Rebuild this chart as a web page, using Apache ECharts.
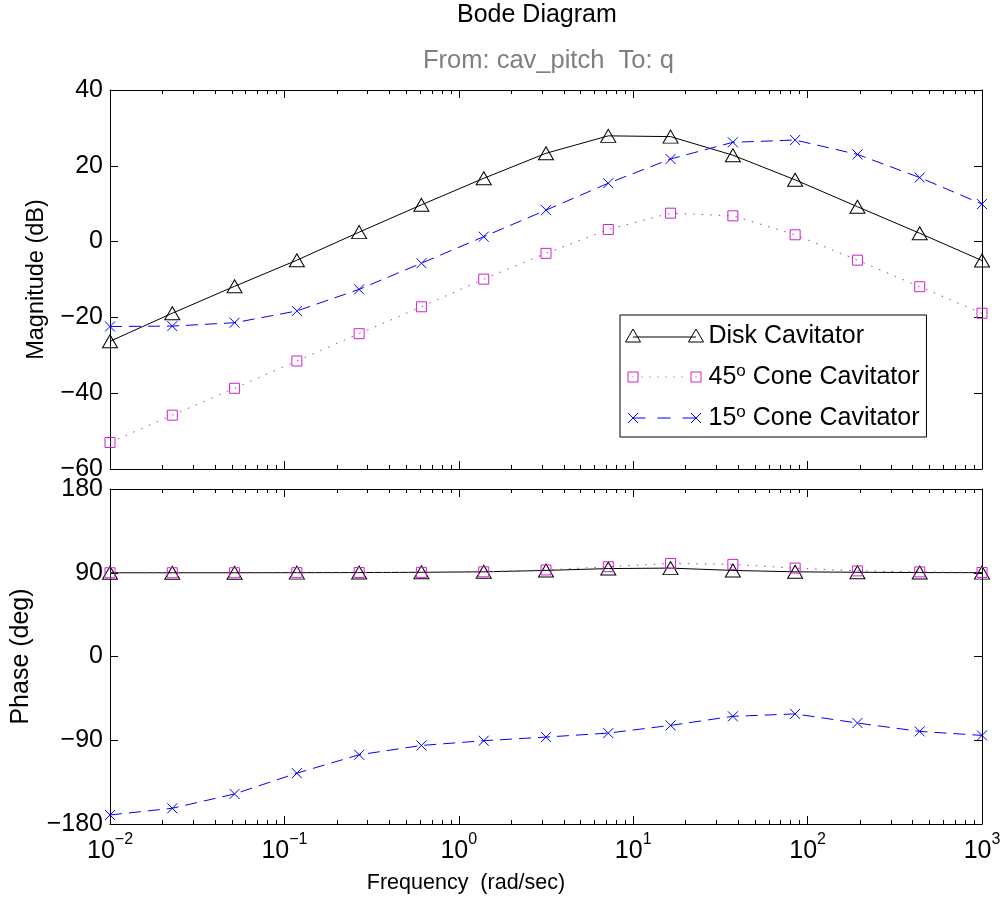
<!DOCTYPE html>
<html>
<head>
<meta charset="utf-8">
<script src="https://cdn.jsdelivr.net/npm/echarts@6.0.0/dist/echarts.min.js"></script>
<style>
html, body { margin: 0; padding: 0; background: #fff; }
#main { width: 1005px; height: 900px; }
</style>
</head>
<body>
<div id="main"></div>
<script>
// frequencies (rad/sec) of the plotted markers
var freq = [0.01, 0.02276, 0.05179, 0.1179, 0.2683, 0.6105, 1.39, 3.162, 7.197, 16.38, 37.28, 84.83, 193.1, 439.4, 1000];

// magnitude (dB)
var magDisk = [-26.3, -18.9, -11.8, -4.9, 2.5, 9.7, 16.7, 23.3, 27.9, 27.7, 22.8, 16.3, 9.2, 2.2, -5.0];
var mag45 = [-53.0, -45.8, -38.7, -31.5, -24.3, -17.2, -9.9, -3.1, 3.2, 7.5, 6.8, 1.8, -4.9, -11.9, -18.9];
var mag15 = [-22.4, -22.3, -21.4, -18.3, -12.6, -5.7, 1.3, 8.3, 15.4, 21.8, 26.2, 26.8, 23.0, 16.9, 9.9];

// phase (deg)
var phDisk = [90, 90, 90, 90.1, 90.2, 90.5, 91, 92.5, 94.5, 95, 92.5, 91, 90.5, 90.2, 90.1];
var ph45 = [90, 90, 90, 90.1, 90.2, 90.4, 91, 93, 96.5, 100, 99, 95, 92, 90.9, 90.3];
var ph15 = [-170.3, -163.1, -147.7, -125.4, -105.6, -95.6, -90.5, -86.6, -82.3, -74.0, -64.3, -61.7, -71.5, -80.5, -84.8];

var names = ['Disk Cavitator', '45\u00b0 Cone Cavitator', '15\u00b0 Cone Cavitator'];
var majorTicks = [0.01, 0.1, 1, 10, 100, 1000];
var minorMult = [2, 3, 4, 5, 6, 7, 8, 9];

var minorTicks = [];
for (var i = 0; i < majorTicks.length - 1; i++) {
    for (var j = 0; j < minorMult.length; j++) {
        minorTicks.push(+(majorTicks[i] * minorMult[j]).toPrecision(3));
    }
}

var FONT = "'Liberation Sans', Arial, sans-serif";

function pairs(ys) {
    return freq.map(function (f, k) { return [f, ys[k]]; });
}
function minus(v) {
    return String(v).replace('-', '\u2212');
}

var chart = echarts.init(document.getElementById('main'));

var grids = [
    { left: 110, top: 90, width: 872, height: 379 },
    { left: 110, top: 489, width: 872, height: 335 }
];

var xAxes = [];
[0, 1].forEach(function (g) {
    ['bottom', 'top'].forEach(function (pos) {
        var showLab = (g === 1 && pos === 'bottom');
        xAxes.push({
            gridIndex: g, type: 'log', logBase: 10, position: pos,
            min: 0.01, max: 1000,
            axisLine: { onZero: false, lineStyle: { color: '#000', width: 1 } },
            axisTick: { inside: true, length: 8, customValues: majorTicks, lineStyle: { color: '#000' } },
            splitLine: { show: false },
            axisLabel: {
                show: showLab, customValues: majorTicks, margin: 8,
                fontFamily: FONT, color: '#000',
                formatter: function (v) {
                    var e = Math.round(Math.log10(v));
                    return '{b|10}{s|' + minus(e) + '}';
                },
                rich: {
                    b: { fontSize: 25, fontFamily: FONT, color: '#000', verticalAlign: 'bottom' },
                    s: { fontSize: 16, fontFamily: FONT, color: '#000', verticalAlign: 'bottom', padding: [0, 0, 16, 0] }
                }
            },
            name: showLab ? 'Frequency  (rad/sec)' : '',
            nameLocation: 'middle', nameGap: 48,
            nameTextStyle: { fontSize: 21.5, fontFamily: FONT, color: '#000', padding: [0, 160, 0, 0] }
        });
    });
    ['bottom', 'top'].forEach(function (pos) {
        xAxes.push({
            gridIndex: g, type: 'log', logBase: 10, position: pos,
            min: 0.01, max: 1000,
            axisLine: { show: false, onZero: false },
            axisTick: { inside: true, length: 4, customValues: minorTicks, lineStyle: { color: '#000' } },
            splitLine: { show: false },
            axisLabel: { show: false }
        });
    });
});

var yAxes = [];
var yCfg = [
    { min: -60, max: 40, interval: 20, name: 'Magnitude (dB)', gap: 61, fs: 23.5 },
    { min: -180, max: 180, interval: 90, name: 'Phase (deg)', gap: 76, fs: 25 }
];
[0, 1].forEach(function (g) {
    var c = yCfg[g];
    ['left', 'right'].forEach(function (pos) {
        yAxes.push({
            gridIndex: g, type: 'value', position: pos,
            min: c.min, max: c.max, interval: c.interval,
            axisLine: { show: true, onZero: false, lineStyle: { color: '#000', width: 1 } },
            axisTick: { show: true, inside: true, length: 8, lineStyle: { color: '#000' } },
            splitLine: { show: false },
            axisLabel: {
                show: pos === 'left', margin: 7, fontSize: 25, fontFamily: FONT, color: '#000',
                formatter: minus
            },
            name: pos === 'left' ? c.name : '',
            nameLocation: 'middle', nameGap: c.gap,
            nameTextStyle: { fontSize: c.fs, fontFamily: FONT, color: '#000' }
        });
    });
});

var styles = [
    { color: '#000000', type: 'solid', symbol: 'triangle', size: [15, 13] },
    { color: '#cc22cc', type: [1.5, 7], symbol: 'rect', size: 10 },
    { color: '#0000ff', type: [12, 7], symbol: 'path://M0,0L10,10M10,0L0,10', size: 10 }
];

// legend samples: marker at both ends of a short line, as in the original figure
var legendIcons = [
    'path://M0,0M78,14M0,13L7.5,0L15,13ZM63,13L70.5,0L78,13ZM7.5,8L70.5,8',
    'path://M0,0M78,14M2.5,2L12.5,2L12.5,12L2.5,12ZM65.5,2L75.5,2L75.5,12L65.5,12Z' +
        'M7,7L8,7M16,7L17,7M24,7L25,7M32,7L33,7M40,7L41,7M48,7L49,7M56,7L57,7M70,7L71,7',
    'path://M0,0M78,14M2.5,2L12.5,12M12.5,2L2.5,12M65.5,2L75.5,12M75.5,2L65.5,12' +
        'M7.5,7L20,7M32,7L45,7M57,7L70.5,7'
];

function makeSeries(idx, data, xi, yi) {
    var s = styles[idx];
    return {
        name: names[idx], type: 'line', xAxisIndex: xi, yAxisIndex: yi,
        data: pairs(data), showSymbol: true, symbol: s.symbol, symbolSize: s.size,
        lineStyle: { color: s.color, width: 1, type: s.type },
        itemStyle: { color: 'rgba(0,0,0,0)', borderColor: s.color, borderWidth: 1 },
        emphasis: { disabled: true },
        animation: false
    };
}

var option = {
    backgroundColor: '#fff',
    animation: false,
    textStyle: { fontFamily: FONT },
    grid: grids,
    xAxis: xAxes,
    yAxis: yAxes,
    graphic: [
        { type: 'text', left: 457, top: 3, style: { text: 'Bode Diagram', fontSize: 25, fontFamily: FONT, fill: '#000' } },
        { type: 'text', left: 423, top: 48, style: { text: 'From: cav_pitch  To: q', fontSize: 25.5, fontFamily: FONT, fill: '#7f7f7f' } }
    ],
    legend: {
        data: names.map(function (n, k) {
            return {
                name: n, icon: legendIcons[k],
                itemStyle: { color: 'rgba(0,0,0,0)', borderColor: styles[k].color, borderWidth: 1 }
            };
        }),
        orient: 'vertical', left: 620, top: 315, selectedMode: false,
        padding: [7, 7, 5, 5], itemGap: 13, itemWidth: 78, itemHeight: 14,
        backgroundColor: '#fff', borderColor: '#000', borderWidth: 1, borderRadius: 0,
        textStyle: {
            fontSize: 25, fontFamily: FONT, color: '#000', lineHeight: 28,
            rich: { s: { fontSize: 17, lineHeight: 17, fontFamily: FONT, color: '#000', verticalAlign: 'top' } }
        },
        formatter: function (n) { return n.replace('\u00b0', '{s|o}'); }
    },
    series: [
        makeSeries(0, magDisk, 0, 0),
        makeSeries(1, mag45, 0, 0),
        makeSeries(2, mag15, 0, 0),
        makeSeries(0, phDisk, 4, 2),
        makeSeries(1, ph45, 4, 2),
        makeSeries(2, ph15, 4, 2)
    ]
};

chart.setOption(option);
</script>
</body>
</html>
